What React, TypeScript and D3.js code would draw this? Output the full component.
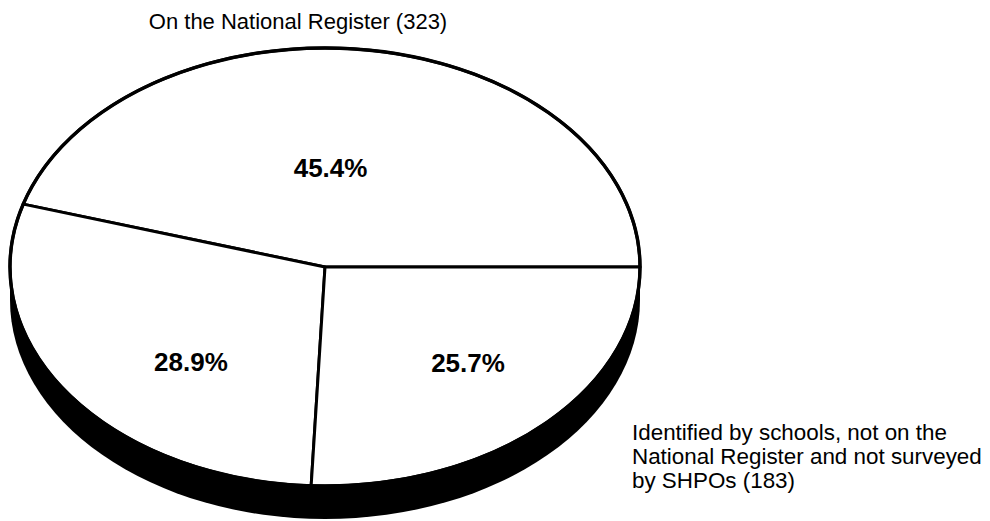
import * as d3 from "d3";

const categories = [
  "On the National Register",
  "Surveyed by SHPOs",
  "Identified by schools, not on the National Register and not surveyed by SHPOs",
];
const counts = [323, 206, 183];
const percentLabels = ["45.4%", "28.9%", "25.7%"];
const topLabel = "On the National Register (323)";
const sideLabelLines = [
  "Identified by schools, not on the",
  "National Register and not surveyed",
  "by SHPOs (183)",
];

const W = 990;
const H = 521;
const cx = 325;
const cy = 267;
const rx = 315;
const ry = 219;
const depth = 33;
// label radius (fraction of the face) per slice, plus small nudges
const labelFrac = [0.45, 0.6, 0.62];
const labelNudge: [number, number][] = [[-15, -2], [20, 18], [8, -3]];

const FONT = "'Liberation Sans', Arial, Helvetica, sans-serif";

export default function App() {
  const pie = d3
    .pie<number>()
    .sort(null)
    .startAngle(Math.PI / 2)
    .endAngle(Math.PI / 2 - 2 * Math.PI);
  const slices = pie(counts);
  const arc = d3.arc<d3.PieArcDatum<number>>().innerRadius(0).outerRadius(1);

  const labelPos = slices.map((s, i) => {
    const a = (s.startAngle + s.endAngle) / 2;
    const f = labelFrac[i];
    return [
      cx + Math.sin(a) * rx * f + labelNudge[i][0],
      cy - Math.cos(a) * ry * f + labelNudge[i][1],
    ];
  });

  return (
    <svg
      width={W}
      height={H}
      viewBox={`0 0 ${W} ${H}`}
      style={{ position: "absolute", left: 0, top: 0, background: "#fff" }}
    >
      {/* side of the disc */}
      <ellipse cx={cx} cy={cy + depth} rx={rx} ry={ry} fill="#000" />
      <rect x={cx - rx} y={cy} width={2 * rx} height={depth} fill="#000" />
      <g transform={`translate(${cx},${cy}) scale(${rx},${ry})`}>
        <ellipse cx={0} cy={0} rx={1} ry={1} fill="#fff" />
        {slices.map((s, i) => (
          <path
            key={categories[i]}
            d={arc(s) ?? ""}
            fill="#fff"
            stroke="#000"
            strokeWidth={3}
            strokeLinejoin="round"
            vectorEffect="non-scaling-stroke"
          />
        ))}
        <ellipse
          cx={0}
          cy={0}
          rx={1}
          ry={1}
          fill="none"
          stroke="#000"
          strokeWidth={3.4}
          vectorEffect="non-scaling-stroke"
        />
      </g>

      {slices.map((s, i) => (
        <text
          key={"p" + i}
          x={labelPos[i][0]}
          y={labelPos[i][1] + 9.5}
          textAnchor="middle"
          fontFamily={FONT}
          fontWeight="bold"
          fontSize={26}
          fill="#000"
        >
          {percentLabels[i]}
        </text>
      ))}

      <text
        x={298}
        y={29}
        textAnchor="middle"
        fontFamily={FONT}
        fontSize={22}
        fill="#000"
      >
        {topLabel}
      </text>

      {sideLabelLines.map((line, i) => (
        <text
          key={line}
          x={632}
          y={440 + i * 24}
          fontFamily={FONT}
          fontSize={22.4}
          fill="#000"
        >
          {line}
        </text>
      ))}
    </svg>
  );
}
